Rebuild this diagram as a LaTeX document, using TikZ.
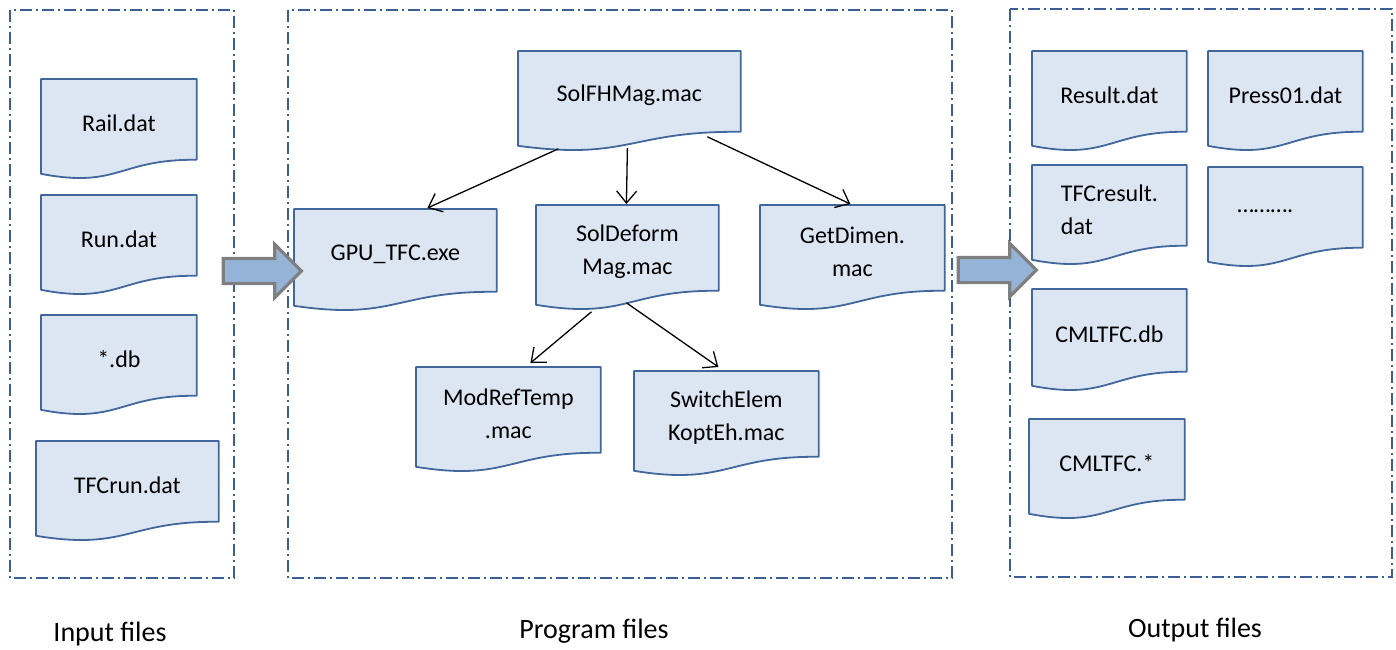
\documentclass[tikz,border=0pt]{standalone}
\usepackage{fontspec}
\setmainfont{Carlito}
\usepackage{tikz}
\usetikzlibrary{arrows.meta,calc,backgrounds,shapes.arrows}
\definecolor{FrameBlue}{HTML}{3B5E95}
\definecolor{DocLine}{HTML}{41679C}
\definecolor{DocFill}{HTML}{DCE6F2}
\definecolor{ArrFill}{HTML}{95B3D7}
\definecolor{ArrLine}{HTML}{7F7F7F}

\begin{document}
\begin{tikzpicture}[
  x=0.5pt,y=-0.5pt,
  doc/.style={anchor=north west,inner sep=0pt,minimum width=#1*0.5pt,
    minimum height=40pt,yshift=-2pt,align=center,
    font=\fontsize{12}{16.5}\selectfont},
  docline/.style={draw=DocLine,line width=0.9pt,fill=DocFill,line join=round},
  frame/.style={draw=FrameBlue,line width=1pt,
    dash pattern=on 6pt off 2pt on 1pt off 2pt},
  bigarrow/.style={single arrow,draw=ArrLine,line width=1.6pt,fill=ArrFill,
    minimum height=39pt,minimum width=25.5pt,inner sep=5.5pt,
    single arrow head extend=7pt},
  a/.style={-{Straight Barb[length=6pt,width=10pt]},line width=0.65pt},
  lbl/.style={font=\fontsize{14}{16}\selectfont}
]
  \useasboundingbox (0,0) rectangle (1396,649);

  % dash-dot groups
  \draw[frame] (10,10) rectangle (234,578);
  \draw[frame] (288,10) rectangle (952,578);
  \draw[frame] (1010,9) rectangle (1392,577);

  % input files
  \node[doc=155] (rail) at (41,79) {Rail.dat};
  \node[doc=155] (run) at (41,195) {Run.dat};
  \node[doc=155] (stardb) at (41,315) {*.db};
  \node[doc=182] (tfcrun) at (36,441) {TFCrun.dat};

  % program files
  \node[doc=202,minimum height=41pt] (gpu) at (294,209) {GPU\_TFC.exe};
  \node[doc=222] (solfh) at (518,51) {SolFHMag.mac};
  \node[doc=182,minimum height=42.5pt] (soldef) at (536,205) {SolDeform\\Mag.mac};
  \node[doc=184,minimum height=42.5pt] (getdim) at (760,205) {GetDimen.\\mac};
  \node[doc=184,minimum height=42.5pt] (modref) at (416,367) {ModRefTemp\\.mac};
  \node[doc=184,minimum height=42.5pt] (switch) at (634,371) {SwitchElem\\KoptEh.mac};

  % output files
  \node[doc=154] (result) at (1032,51) {Result.dat};
  \node[doc=154] (press) at (1208,51) {Press01.dat};
  \node[doc=154,align=left] (tfcres) at (1032,165) {TFCresult.\\dat};
  \node[doc=154,text width=48pt,align=left] (dots) at (1208,167) {……….};
  \node[doc=154,minimum height=41pt] (cmldb) at (1032,289) {CMLTFC.db};
  \node[doc=155] (cmlstar) at (1029,419) {CMLTFC.*};

  % document outlines with wavy bottom (text sits 4px low in each)
  \begin{scope}[on background layer]
    \foreach \n in {rail,run,stardb,tfcrun,gpu,solfh,soldef,getdim,modref,
                    switch,result,press,tfcres,dots,cmldb,cmlstar}
      {\draw[docline] ($(\n.south east)+(0,-4)$) -- ($(\n.north east)+(0,-4)$)
         -- ($(\n.north west)+(0,-4)$) -- ($(\n.south west)+(0,10)$)
         .. controls ($(\n.south)+(0,25)$) and ($(\n.south)+(0,-5)$)
         .. ($(\n.south east)+(0,-4)$);}
  \end{scope}

  % calls
  \draw[a] ($(solfh.south)+(-71,13)$) -- ($(gpu.north)+(32,-5)$);
  \draw[a] ($(solfh.south)+(-2,12)$) -- ($(soldef.north)+(-1,-5)$);
  \draw[a] ($(solfh.south)+(78,1)$) -- ($(getdim.north)+(-2,-5)$);
  \draw[a] ($(soldef.south)+(-36,17)$) -- ($(modref.north)+(22,-8)$);
  \draw[a] ($(soldef.south)+(-1,8)$) -- ($(switch.north)+(-8,-8)$);

  % flow between groups
  \node[bigarrow] (inarrow) at (256,271) {};
  \node[bigarrow] (outarrow) at (991,270) {};

  \node[lbl] (inlbl) at (110,634) {Input files};
  \node[lbl] (proglbl) at (594,631) {Program files};
  \node[lbl] (outlbl) at (1195,630) {Output files};
\end{tikzpicture}
\end{document}
